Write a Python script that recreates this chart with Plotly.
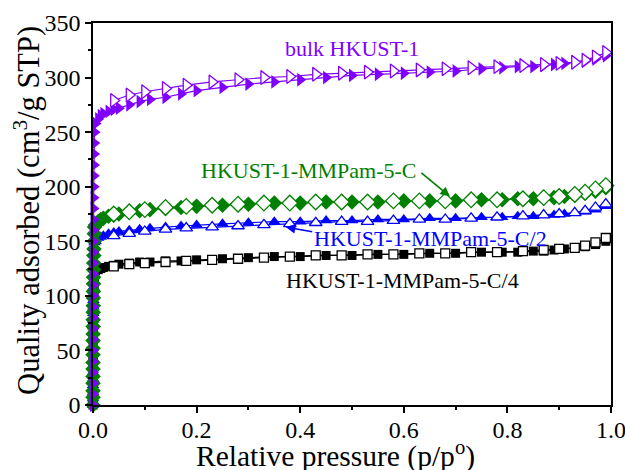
import plotly.graph_objects as go

# ---------------- data ----------------
low_p = [0.00001, 0.00002, 0.00003, 0.00005, 0.00007, 0.0001, 0.00013, 0.00016, 0.0002,
         0.00025, 0.0003, 0.00035, 0.0004, 0.0005, 0.0006, 0.0007, 0.0008, 0.0009, 0.001,
         0.0012, 0.0014, 0.0016, 0.0019, 0.0022, 0.0026, 0.003]

ads_p = [0.005, 0.01, 0.015, 0.02, 0.03, 0.04, 0.05, 0.07, 0.09, 0.11, 0.14, 0.17, 0.2,
         0.25, 0.3, 0.35, 0.4, 0.45, 0.5, 0.55, 0.6, 0.65, 0.7, 0.75, 0.79, 0.82, 0.85,
         0.87, 0.89, 0.91, 0.93, 0.95, 0.97, 0.99]

des_p = [0.99, 0.97, 0.95, 0.93, 0.9, 0.87, 0.83, 0.78, 0.73, 0.68, 0.63, 0.58, 0.53,
         0.48, 0.43, 0.38, 0.33, 0.28, 0.23, 0.18, 0.14, 0.1, 0.07, 0.04]

# bulk HKUST-1
bulk_low = [0, 10, 20, 30, 40, 50, 60, 70, 80, 90, 100, 110, 120, 130, 140, 150, 160,
            170, 180, 190, 200, 210, 220, 230, 240, 250]
bulk_ads = [258, 262, 265, 267, 269, 271, 272, 275, 278, 280, 282, 285, 288, 291, 294,
            296, 298, 300, 302, 303, 304, 305, 306, 308, 309, 310, 310, 311, 312, 313,
            314, 315, 317, 320]
bulk_des = [323, 319, 316, 314, 313, 312, 311, 310, 309, 308, 307, 306, 305, 304, 303,
            301, 300, 298, 296, 293, 290, 287, 284, 279]

# HKUST-1-MMPam-5-C
c1_low = [0, 7, 13, 20, 26, 33, 39, 46, 52, 59, 65, 72, 78, 85, 91, 98, 104, 111, 117,
          124, 130, 137, 143, 150, 157, 163]
c1_ads = [165, 168, 170, 171, 173, 174, 175, 177, 178, 179, 180, 181, 182, 183, 184, 185,
          185, 186, 186, 186, 187, 187, 187, 188, 188, 189, 189, 190, 190, 191, 192, 194,
          196, 199]
c1_des = [201, 198, 195, 193, 191, 190, 189, 188, 188, 187, 187, 187, 186, 186, 186, 185,
          185, 184, 183, 182, 181, 179, 177, 175]

# HKUST-1-MMPam-5-C/2
c2_low = [0, 6, 12, 18, 24, 30, 36, 42, 48, 54, 60, 66, 72, 78, 84, 90, 96, 102, 108, 114,
          120, 126, 132, 138, 144, 149]
c2_ads = [150, 153, 154, 155, 157, 158, 159, 160, 161, 162, 163, 164, 165, 166, 167, 168,
          168, 169, 169, 170, 170, 171, 171, 172, 172, 173, 173, 174, 174, 175, 176, 177,
          179, 182]
c2_des = [184, 181, 178, 176, 175, 174, 173, 172, 171, 170, 170, 169, 168, 168, 167, 166,
          165, 164, 163, 162, 161, 159, 157, 155]

# HKUST-1-MMPam-5-C/4
c4_low = [0, 5, 10, 15, 20, 25, 30, 35, 40, 45, 50, 55, 60, 65, 70, 75, 80, 85, 90, 95,
          100, 105, 110, 114, 118, 121]
c4_ads = [123, 124, 125, 126, 127, 128, 129, 130, 131, 131, 132, 132, 133, 134, 135, 136,
          136, 137, 137, 138, 138, 139, 139, 140, 140, 140, 141, 141, 142, 143, 144, 145,
          147, 150]
c4_des = [153, 149, 146, 144, 143, 142, 141, 140, 140, 139, 139, 138, 138, 137, 137, 136,
          135, 134, 133, 132, 131, 130, 129, 127]

x_ticks = [0.0, 0.2, 0.4, 0.6, 0.8, 1.0]
x_tick_labels = ["0.0", "0.2", "0.4", "0.6", "0.8", "1.0"]
y_ticks = [0, 50, 100, 150, 200, 250, 300, 350]

series = [
    ("HKUST-1-MMPam-5-C/4", c4_low, c4_ads, c4_des, "#000000", "square", 9),
    ("HKUST-1-MMPam-5-C/2", c2_low, c2_ads, c2_des, "#0000ff", "triangle-up", 11),
    ("HKUST-1-MMPam-5-C", c1_low, c1_ads, c1_des, "#008000", "diamond", 12),
    ("bulk HKUST-1", bulk_low, bulk_ads, bulk_des, "#8000ff", "triangle-right", 12),
]

FONT = "Liberation Serif, Times New Roman, serif"

fig = go.Figure()
for name, low, ads, des, col, sym, sz in series:
    fig.add_trace(go.Scatter(
        x=low_p + ads_p, y=low + ads, mode="lines+markers", name=name + " ads",
        line=dict(color=col, width=1.2),
        marker=dict(symbol=sym, size=sz, color=col, line=dict(color=col, width=0)),
        cliponaxis=False, showlegend=False))
    fig.add_trace(go.Scatter(
        x=des_p, y=des, mode="lines+markers", name=name + " des",
        line=dict(color=col, width=1.2),
        marker=dict(symbol=sym, size=sz, color="white", line=dict(color=col, width=1.3)),
        cliponaxis=False, showlegend=False))

fig.add_annotation(x=0.5, y=327, text="bulk HKUST-1", showarrow=False,
                   font=dict(family=FONT, size=22, color="#8000ff"))
fig.add_annotation(x=0.417, y=215, text="HKUST-1-MMPam-5-C", showarrow=False,
                   font=dict(family=FONT, size=22, color="#008000"))
fig.add_annotation(x=0.651, y=153, text="HKUST-1-MMPam-5-C/2", showarrow=False,
                   font=dict(family=FONT, size=22, color="#0000ff"))
fig.add_annotation(x=0.597, y=114.5, text="HKUST-1-MMPam-5-C/4", showarrow=False,
                   font=dict(family=FONT, size=22, color="#000000"))
# arrows
fig.add_annotation(x=0.689, y=191, ax=-30, ay=-25, text="", showarrow=True,
                   arrowhead=2, arrowsize=1.2, arrowwidth=1.6, arrowcolor="#008000")
fig.add_annotation(x=0.372, y=163, ax=28, ay=5, text="", showarrow=True,
                   arrowhead=2, arrowsize=1.2, arrowwidth=1.6, arrowcolor="#0000ff")

# axis titles
fig.add_annotation(xref="paper", yref="paper", x=0.469, y=-0.13, yanchor="middle",
                   text="Relative pressure (p/p<sup>o</sup>)", showarrow=False,
                   font=dict(family=FONT, size=29.5, color="black"))
fig.add_annotation(xref="paper", yref="paper", x=-0.128, y=0.51, textangle=-90,
                   xanchor="center", yanchor="middle",
                   text="Quality adsorbed (cm<sup>3</sup>/g STP)", showarrow=False,
                   font=dict(family=FONT, size=30.5, color="black"))

axis_common = dict(showline=True, linecolor="black", linewidth=1.5, mirror=True,
                   ticks="outside", ticklen=6, tickwidth=1.5, tickcolor="black",
                   showgrid=False, zeroline=False, ticklabeloverflow="allow",
                   tickfont=dict(family=FONT, size=24, color="black"))

fig.update_xaxes(range=[0, 1.0], tickvals=x_ticks, ticktext=x_tick_labels,
                 ticklabelstandoff=-4,
                 minor=dict(dtick=0.1, ticks="outside", ticklen=3, tickwidth=1.5,
                            tickcolor="black", showgrid=False),
                 **axis_common)
fig.update_yaxes(range=[0, 350], tickvals=y_ticks,
                 minor=dict(dtick=25, ticks="outside", ticklen=3, tickwidth=1.5,
                            tickcolor="black", showgrid=False),
                 **axis_common)

fig.update_layout(width=625, height=470, margin=dict(l=93, r=14, t=23, b=65, autoexpand=False),
                  plot_bgcolor="white", paper_bgcolor="white", showlegend=False)

fig.write_html("out.html", config={"displayModeBar": False},
               post_script="document.body.style.margin='0';document.body.style.overflow='hidden';")
